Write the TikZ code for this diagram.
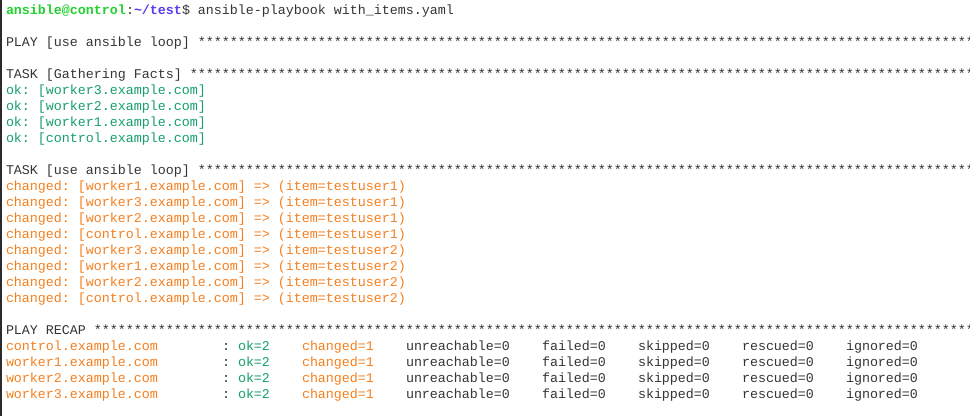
\documentclass[tikz,border=0pt]{standalone}
\usepackage{fontspec}
\setmonofont{Liberation Mono}
\usepackage{xcolor}
\usetikzlibrary{positioning}

\definecolor{termtext}{HTML}{353535}
\definecolor{promptgreen}{HTML}{22D12E}
\definecolor{promptblue}{HTML}{5B3BEF}
\definecolor{okgreen}{HTML}{17A06B}
\definecolor{chorange}{HTML}{F5801E}
\definecolor{termedge}{HTML}{2B2B2B}

\newcommand\termfont{\ttfamily\fontsize{13.33}{16}\selectfont}
\newcommand\starfill{\foreach \s in {1,...,110}{*}}

\begin{document}
\begin{tikzpicture}[x=1pt,y=-1pt,inner sep=0pt,outer sep=0pt]
  \tikzstyle{every node}=[anchor=base west,font=\termfont,text=termtext]
  \tikzstyle{user}=[font=\termfont\bfseries,text=promptgreen]
  \tikzstyle{cwd}=[font=\termfont\bfseries,text=promptblue]
  \tikzstyle{okline}=[text=okgreen]
  \tikzstyle{chline}=[text=chorange]

  \useasboundingbox (0,0) rectangle (970,416);
  \clip (0,0) rectangle (970,416);
  \fill[white] (0,0) rectangle (970,416);
  \fill[termedge] (0,0) rectangle (1.5,416);

  % prompt
  \node[user] (user) at (6,14.5) {ansible@control};
  \node (colon) at (126,14.5) {:};
  \node[cwd] (cwd) at (134,14.5) {\textasciitilde/test};
  \node (cmd) at (182,14.5) {\$ ansible-playbook with\_items.yaml};

  % play and facts
  \node (play) at (6,46.5) {PLAY [use ansible loop] \starfill};
  \node (facts) at (6,78.5) {TASK [Gathering Facts] \starfill};
  \foreach \host [count=\i] in {worker3,worker2,worker1,control}
    \node[okline] (ok\i) at (6,78.5+16*\i) {ok: [\host.example.com]};

  % loop task
  \node (task) at (6,174.5) {TASK [use ansible loop] \starfill};
  \foreach \host/\usr [count=\i] in {worker1/1,worker3/1,worker2/1,control/1,
                                     worker3/2,worker1/2,worker2/2,control/2}
    \node[chline] (ch\i) at (6,174.5+16*\i)
      {changed: [\host.example.com] => (item=testuser\usr)};

  % recap
  \node (recap) at (6,334.5) {PLAY RECAP \starfill};
  \foreach \host [count=\i] in {control,worker1,worker2,worker3} {
    \node[chline] (rh\i) at (6,334.5+16*\i) {\host.example.com};
    \node (rc\i) at (222,334.5+16*\i) {:};
    \node[okline] (rok\i) at (238,334.5+16*\i) {ok=2};
    \node[chline] (rch\i) at (302,334.5+16*\i) {changed=1};
    \node (run\i) at (406,334.5+16*\i) {unreachable=0};
    \node (rf\i) at (542,334.5+16*\i) {failed=0};
    \node (rs\i) at (638,334.5+16*\i) {skipped=0};
    \node (rr\i) at (742,334.5+16*\i) {rescued=0};
    \node (ri\i) at (846,334.5+16*\i) {ignored=0};
  }
\end{tikzpicture}
\end{document}
